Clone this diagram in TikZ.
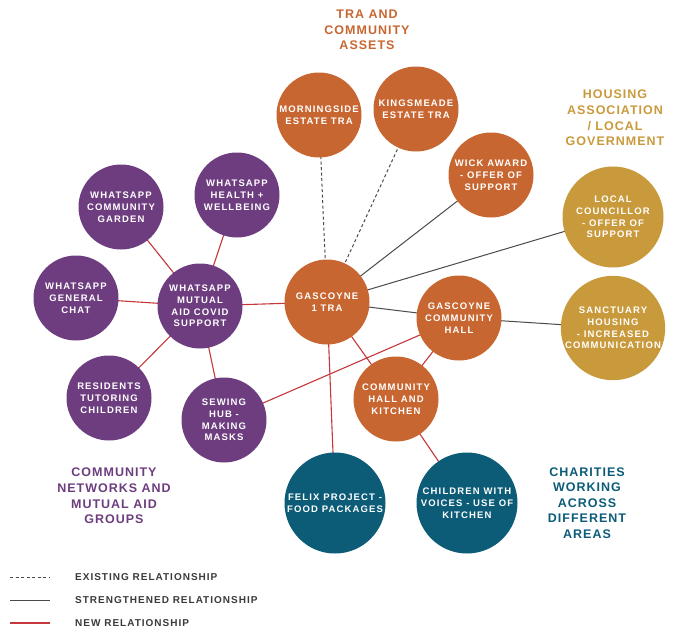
\documentclass[tikz,border=0pt]{standalone}
\usepackage{fontspec}
\usepackage{xcolor}
\newfontfamily\mapfont{Liberation Sans}[LetterSpace=12]
\newfontfamily\headfont{Liberation Sans}[LetterSpace=8]
\newfontfamily\legendfont{Liberation Sans}[LetterSpace=10]
\usetikzlibrary{backgrounds}
\usetikzlibrary{math}

\definecolor{cnpurple}{HTML}{6E3D80}
\definecolor{traorange}{HTML}{C86631}
\definecolor{hagold}{HTML}{C99A3B}
\definecolor{chteal}{HTML}{0C5C78}
\definecolor{relred}{HTML}{C4373A}
\definecolor{reldark}{HTML}{3A3A3A}
\definecolor{relgray}{HTML}{4A4A4A}

\tikzset{
  bubble/.style={circle, inner sep=0pt, minimum size=85pt, text=white,
    align=center, font=\mapfont\bfseries\fontsize{9.5}{11.8}\selectfont},
  bigbubble/.style={bubble, minimum size=101pt},
  cnbub/.style={bubble, fill=cnpurple},
  trabub/.style={bubble, fill=traorange},
  habub/.style={bigbubble, fill=hagold},
  chbub/.style={bigbubble, fill=chteal},
  grouplabel/.style={align=center, font=\headfont\bfseries\fontsize{12.5}{15.6}\selectfont},
  legendtext/.style={anchor=west, inner sep=0pt, text=reldark,
    font=\legendfont\bfseries\fontsize{10}{12}\selectfont},
  existing/.style={draw=relgray, dash pattern=on 3pt off 2.5pt, line width=1pt},
  strengthened/.style={draw=relgray, line width=1pt},
  newrel/.style={draw=relred, line width=1.1pt},
}

\begin{document}
\begin{tikzpicture}[x=1pt,y=-1pt]

  \useasboundingbox (0,0) rectangle (680,637);

  % group headings
  \node[grouplabel, text=traorange] (traHead) at (367,30) {TRA AND\\COMMUNITY\\ASSETS};
  \node[grouplabel, text=hagold]    (haHead)  at (615,118) {HOUSING\\ASSOCIATION\\/ LOCAL\\GOVERNMENT};
  \node[grouplabel, text=cnpurple]  (cnHead)  at (114,496) {COMMUNITY\\NETWORKS AND\\MUTUAL AID\\GROUPS};
  \node[grouplabel, text=chteal]    (chHead)  at (587,503) {CHARITIES\\WORKING\\ACROSS\\DIFFERENT\\AREAS};

  % TRA and community assets
  \node[trabub] (gascoyne)    at (327,302) {GASCOYNE\\1 TRA};
  \node[trabub] (morningside) at (319,115) {MORNINGSIDE\\ESTATE TRA};
  \node[trabub] (kingsmeade)  at (416,109) {KINGSMEADE\\ESTATE TRA};
  \node[trabub] (wick)        at (491,175) {WICK AWARD\\- OFFER OF\\SUPPORT};
  \node[trabub] (hall)        at (459,318) {GASCOYNE\\COMMUNITY\\HALL};
  \node[trabub] (kitchen)     at (396,399) {COMMUNITY\\HALL AND\\KITCHEN};

  % housing association / local government
  \node[habub] (councillor) at (613,217) {LOCAL\\COUNCILLOR\\- OFFER OF\\SUPPORT};
  \node[habub] (sanctuary)  at (613,328) {SANCTUARY\\HOUSING\\- INCREASED\\COMMUNICATION};

  % community networks and mutual aid groups
  \node[cnbub] (mutualaid) at (200,306) {WHATSAPP\\MUTUAL\\AID COVID\\SUPPORT};
  \node[cnbub] (garden)    at (121,207) {WHATSAPP\\COMMUNITY\\GARDEN};
  \node[cnbub] (health)    at (237,195) {WHATSAPP\\HEALTH +\\WELLBEING};
  \node[cnbub] (chat)      at (76,298)  {WHATSAPP\\GENERAL\\CHAT};
  \node[cnbub] (tutoring)  at (109,398) {RESIDENTS\\TUTORING\\CHILDREN};
  \node[cnbub] (sewing)    at (224,420) {SEWING\\HUB -\\MAKING\\MASKS};

  % charities
  \node[chbub] (felix)    at (335,503) {FELIX PROJECT -\\FOOD PACKAGES};
  \node[chbub] (voices)   at (467,503) {CHILDREN WITH\\VOICES - USE OF\\KITCHEN};

  % relationships, behind the circles
  \begin{scope}[on background layer]
    \draw[existing] (gascoyne.center) -- (morningside.center);
    \draw[existing] (gascoyne.center) -- (kingsmeade.center);

    \draw[strengthened] (gascoyne.center) -- (wick.center);
    \draw[strengthened] (gascoyne.center) -- (councillor.center);
    \draw[strengthened] (gascoyne.center) -- (hall.center);
    \draw[strengthened] (hall.center) -- (sanctuary.center);

    \foreach \grp in {garden, health, chat, tutoring, sewing, gascoyne}
      \draw[newrel] (mutualaid.center) -- (\grp.center);
    \draw[newrel] (gascoyne.center) -- (felix.center);
    \draw[newrel] (gascoyne.center) -- (kitchen.center);
    \draw[newrel] (hall.center) -- (sewing.center);
    \draw[newrel] (hall.center) -- (kitchen.center);
    \draw[newrel] (kitchen.center) -- (voices.center);
  \end{scope}

  % legend
  \coordinate (exA) at (10,577);  \coordinate (exB) at (50,577);
  \coordinate (stA) at (10,600);  \coordinate (stB) at (50,600);
  \coordinate (nwA) at (10,623);  \coordinate (nwB) at (50,623);
  \draw[existing]     (exA) -- (exB);
  \draw[strengthened] (stA) -- (stB);
  \draw[newrel]       (nwA) -- (nwB);
  \node[legendtext] (exText) at (75,577) {EXISTING RELATIONSHIP};
  \node[legendtext] (stText) at (75,600) {STRENGTHENED RELATIONSHIP};
  \node[legendtext] (nwText) at (75,623) {NEW RELATIONSHIP};

\end{tikzpicture}
\end{document}
